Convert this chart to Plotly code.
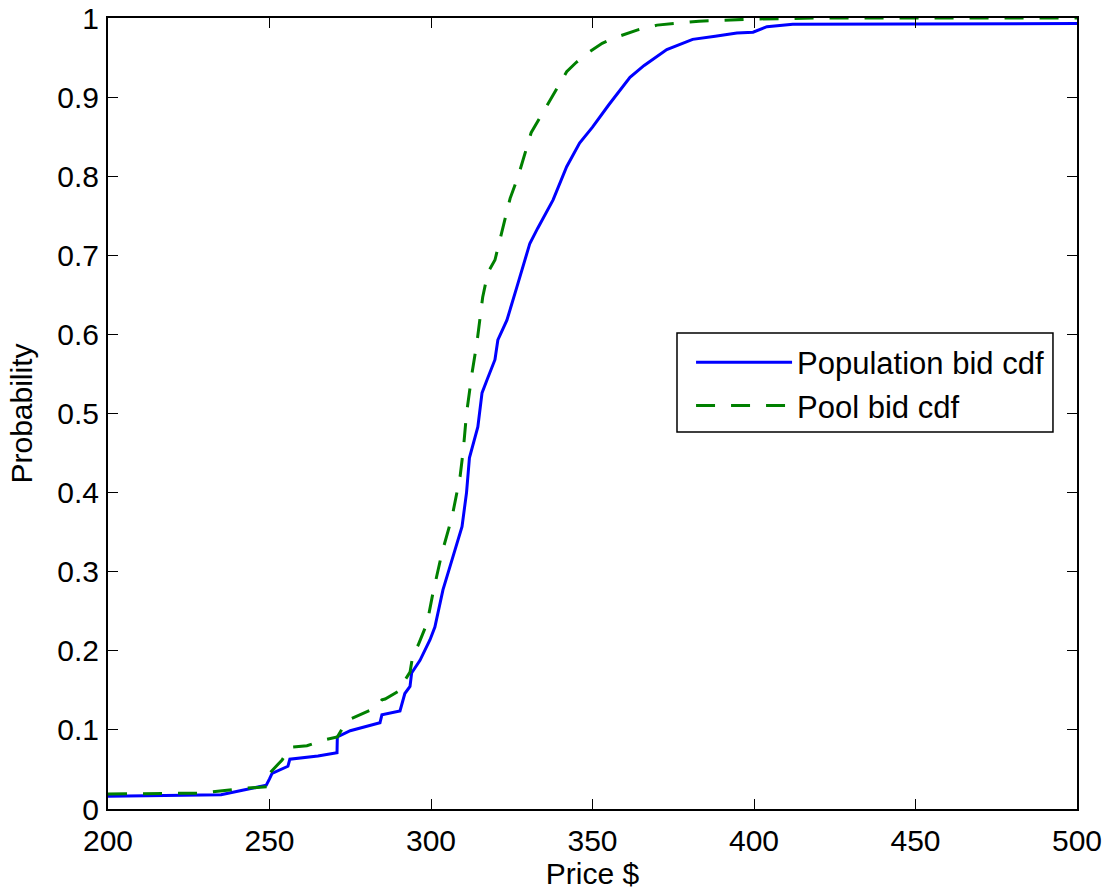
import plotly.graph_objects as go

pop_price = [200, 235, 242, 249, 250, 250.8, 255.7, 256.3, 265, 270.9, 271, 275, 284.2, 284.8,
             290.4, 291.9, 293.5, 294, 296.6, 299.7, 301.2, 303.7, 306.5, 309.6, 311, 311.9,
             314.5, 315.8, 317.3, 319.8, 320.7, 323.5, 326.6, 330.6, 333, 337.8, 342, 346, 350,
             355, 361.6, 366, 373, 381, 388, 394.7, 399.7, 404, 412, 500]
pop_cdf = [0.016, 0.018, 0.024, 0.030, 0.038, 0.045, 0.054, 0.063, 0.067, 0.071, 0.091, 0.099,
           0.109, 0.119, 0.124, 0.146, 0.155, 0.172, 0.188, 0.214, 0.23, 0.277, 0.315, 0.357,
           0.40, 0.444, 0.483, 0.526, 0.542, 0.568, 0.593, 0.618, 0.66, 0.715, 0.734, 0.77,
           0.812, 0.842, 0.862, 0.89, 0.925, 0.94, 0.96, 0.973, 0.977, 0.981, 0.982, 0.989,
           0.992, 0.993]

pool_price = [200, 228.5, 241.8, 249.2, 249.5, 253.9, 256.3, 261.6, 266.6, 271, 274, 278, 283,
              284.8, 285.8, 290.4, 291.3, 293.5, 294.4, 296, 298.8, 300.6, 303.4, 306.5, 309,
              310, 311, 312.7, 314.2, 316, 317.6, 319.8, 322.9, 324.5, 327, 331, 334, 336.8,
              342, 345, 349, 353, 357.6, 364, 370, 383, 399.7, 420, 500]
pool_cdf = [0.019, 0.020, 0.026, 0.028, 0.043, 0.062, 0.078, 0.080, 0.087, 0.091, 0.112, 0.119,
            0.128, 0.138, 0.139, 0.150, 0.159, 0.173, 0.195, 0.207, 0.235, 0.273, 0.324, 0.369,
            0.42, 0.454, 0.50, 0.551, 0.589, 0.647, 0.678, 0.694, 0.748, 0.772, 0.80, 0.855,
            0.876, 0.896, 0.932, 0.944, 0.957, 0.968, 0.976, 0.985, 0.991, 0.996, 0.9987, 1.0, 1.0]

series_names = ["Population bid cdf", "Pool bid cdf"]
x_ticks = [200, 250, 300, 350, 400, 450, 500]
y_ticks = [0, 0.1, 0.2, 0.3, 0.4, 0.5, 0.6, 0.7, 0.8, 0.9, 1]
y_tick_text = ["0", "0.1", "0.2", "0.3", "0.4", "0.5", "0.6", "0.7", "0.8", "0.9", "1"]

FONT = "Liberation Sans, Arial, Helvetica, sans-serif"

fig = go.Figure()
fig.add_trace(go.Scatter(x=pop_price, y=pop_cdf, mode="lines", name=series_names[0],
                         line=dict(color="#0000FF", width=3)))
fig.add_trace(go.Scatter(x=pool_price, y=pool_cdf, mode="lines", name=series_names[1],
                         line=dict(color="#008000", width=3, dash="19px,16px")))

axis_common = dict(showline=True, linecolor="black", linewidth=2, mirror="ticks",
                   ticks="inside", ticklen=10, tickwidth=1.3, tickcolor="black",
                   showgrid=False, zeroline=False,
                   tickfont=dict(family=FONT, size=30, color="black"))

fig.update_xaxes(range=[200, 500], tickvals=x_ticks, ticklabelstandoff=4,
                 title=dict(text="Price $", font=dict(family=FONT, size=30, color="black"), standoff=4),
                 **axis_common)
fig.update_yaxes(range=[0, 1], tickvals=y_ticks, ticktext=y_tick_text, ticklabelstandoff=1,
                 title=dict(text="Probability", font=dict(family=FONT, size=30, color="black"), standoff=16),
                 **axis_common)

# legend frame (px positions converted to paper fractions of the plot area)
fig.add_shape(type="rect", xref="paper", yref="paper",
              x0=0.5872, x1=0.9752, y0=0.4766, y1=0.6018,
              line=dict(color="black", width=1.5), fillcolor="white", layer="above")

fig.update_layout(
    width=1110, height=892,
    margin=dict(l=108, r=33, t=18, b=83, autoexpand=False),
    paper_bgcolor="white", plot_bgcolor="white",
    showlegend=True,
    legend=dict(x=0.6017, y=0.5985, xanchor="left", yanchor="top",
                bgcolor="rgba(0,0,0,0)", borderwidth=0,
                font=dict(family=FONT, size=31, color="black"),
                itemwidth=96, tracegroupgap=0),
)

fig.write_html("out.html")
